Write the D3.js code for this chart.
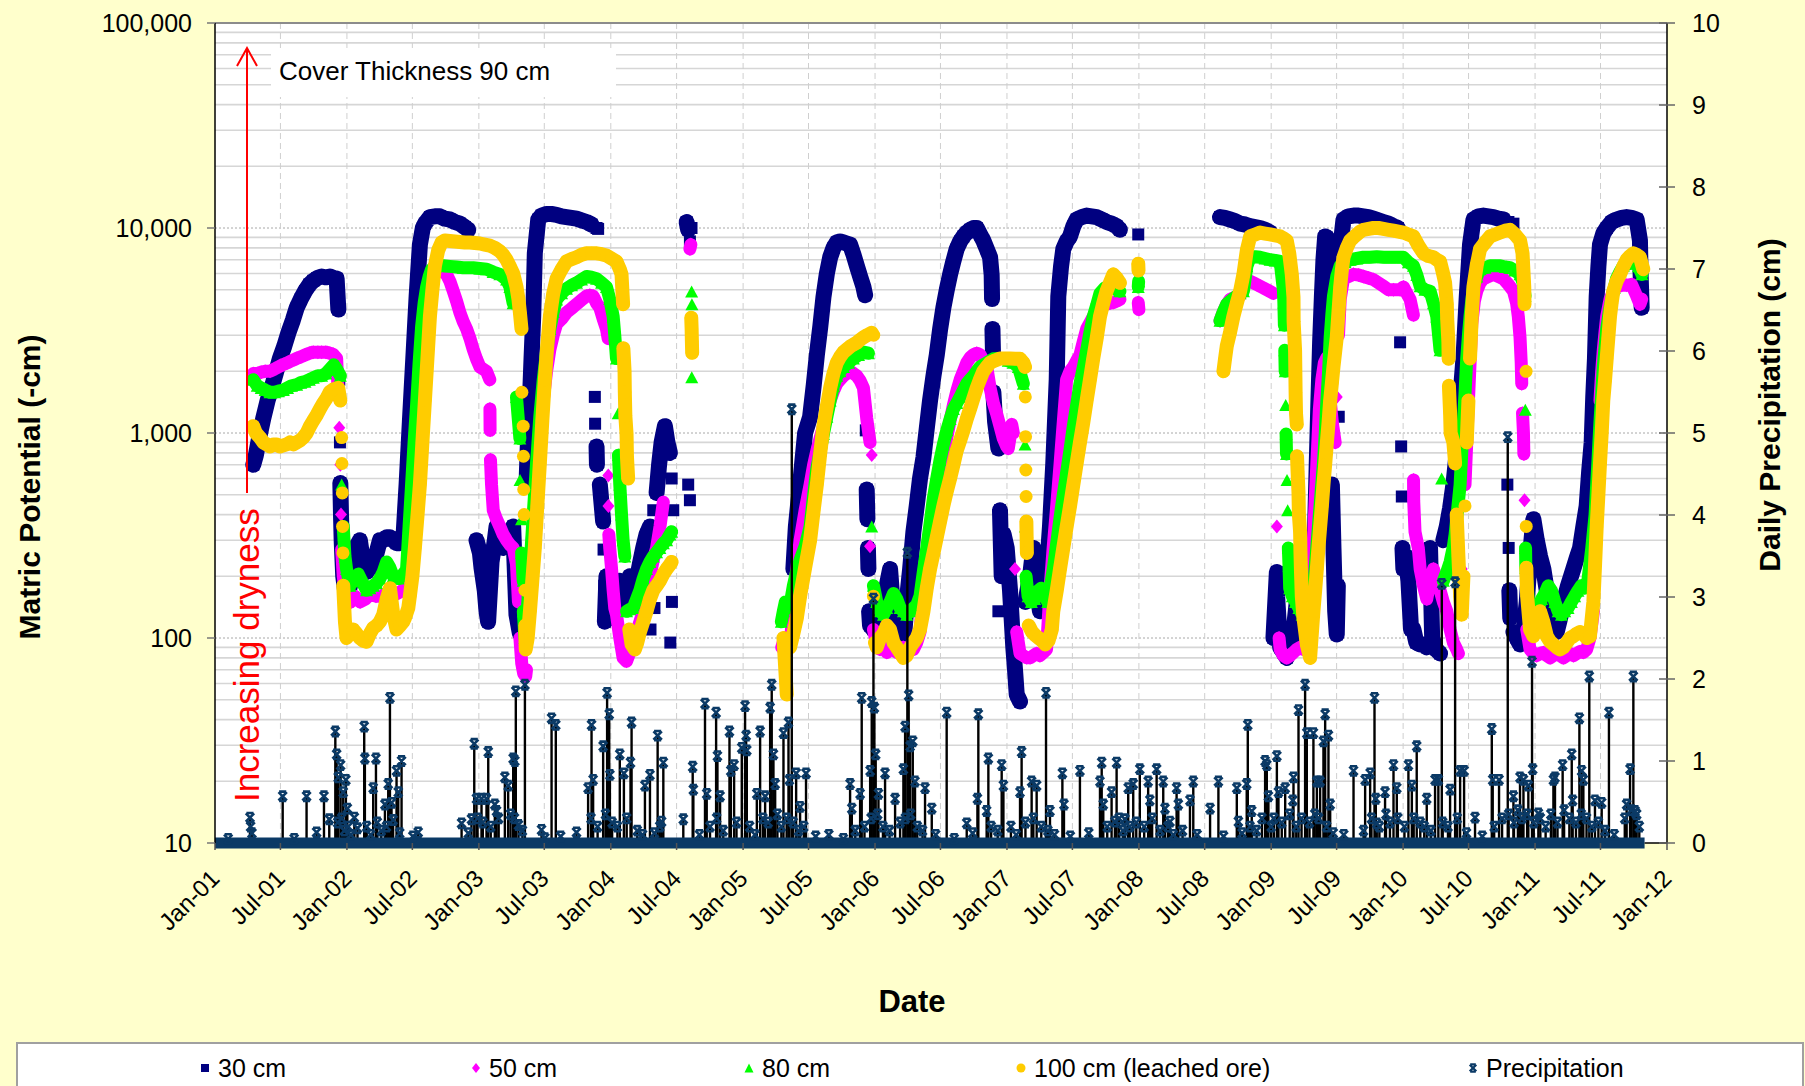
<!DOCTYPE html>
<html>
<head>
<meta charset="utf-8">
<script src="https://d3js.org/d3.v7.min.js"></script>
<style>
  body { margin: 0; background: #FFFFCC; }
  text { font-family: "Liberation Sans", Arial, sans-serif; }
</style>
</head>
<body>
<div id="chart"></div>
<script>

// matric potential (-cm) by depth, [decimal year, value]
var s30 = [
[2001.290,700],[2001.310,780],[2001.335,950],[2001.366,1180],[2001.400,1450],[2001.429,1660],[2001.460,1950],[2001.492,2310],[2001.525,2650],[2001.556,3080],[2001.590,3550],[2001.619,4080],[2001.650,4500],[2001.682,4920],[2001.715,5300],[2001.745,5530],[2001.775,5700],[2001.808,5800],[2001.840,5750],[2001.871,5800],[2001.900,5700],[2001.922,5660],[2001.935,4000],[2001.942,1820],[2001.947,900],[2001.950,570],[2001.955,400],[2001.960,300],[2001.972,200],[2001.997,150],
[2002.023,180],[2002.048,217],[2002.073,280],[2002.098,300],[2002.124,230],[2002.149,210],[2002.174,220],[2002.199,225],[2002.225,260],[2002.250,300],[2002.275,300],[2002.301,310],[2002.326,310],[2002.351,300],[2002.376,290],[2002.402,290],[2002.427,300],[2002.452,560],[2002.477,1135],[2002.503,2310],[2002.528,4630],[2002.553,8290],[2002.575,10000],[2002.591,10500],[2002.629,11300],[2002.667,11400],[2002.705,11400],[2002.742,11100],[2002.780,11000],[2002.818,10700],[2002.856,10500],[2002.894,10100],[2002.919,9800],
[2002.982,300],[2003.008,260],[2003.020,220],[2003.045,170],[2003.058,135],[2003.070,120],[2003.096,235],[2003.121,300],[2003.134,350],[2003.159,330],[2003.184,275],[2003.210,300],[2003.235,330],[2003.260,350],[2003.285,130],[2003.311,105],[2003.336,120],[2003.361,560],[2003.374,1000],[2003.387,1440],[2003.399,2300],[2003.412,3700],[2003.424,7530],[2003.450,11000],[2003.475,11500],[2003.513,11700],[2003.551,11700],[2003.589,11600],[2003.627,11400],[2003.664,11300],[2003.702,11200],[2003.740,11100],[2003.778,10900],[2003.816,10700],[2003.854,10400],[2003.892,10000],[2003.904,9900],
[2003.879,1500],[2003.881,1110],[2003.892,860],[2003.895,700],[2003.917,560],[2003.942,370],[2003.945,270],[2003.950,180],[2003.955,120],[2003.967,200],[2003.992,150],[2004.018,125],[2004.043,160],[2004.068,190],[2004.093,140],[2004.119,170],[2004.144,200],[2004.169,160],[2004.195,190],[2004.220,230],[2004.245,275],[2004.270,320],[2004.296,350],[2004.321,420],[2004.346,510],[2004.365,700],[2004.384,900],[2004.409,1080],[2004.428,900],[2004.447,800],[2004.460,600],[2004.472,420],[2004.300,110],[2004.330,140],[2004.450,95],[2004.462,150],
[2004.573,10700],[2004.585,9800],[2004.598,8600],[2004.610,10000],[2004.585,560],[2004.598,470],
[2005.381,217],[2005.400,350],[2005.432,560],[2005.470,1000],[2005.508,1200],[2005.535,1700],[2005.559,2400],[2005.585,3300],[2005.609,4600],[2005.635,6000],[2005.660,7200],[2005.685,8000],[2005.710,8500],[2005.735,8600],[2005.761,8500],[2005.786,8400],[2005.811,8300],[2005.837,7400],[2005.862,6540],[2005.887,5800],[2005.912,5160],[2005.925,4700],[2005.930,1030],[2005.937,530],[2005.942,380],[2005.946,275],[2005.950,217],[2005.955,135],[2005.962,115],[2005.988,110],
[2006.013,120],[2006.038,107],[2006.064,140],[2006.089,180],[2006.114,217],[2006.140,130],[2006.165,90],[2006.190,95],[2006.215,92],[2006.240,150],[2006.266,217],[2006.291,330],[2006.316,440],[2006.341,600],[2006.367,760],[2006.392,1050],[2006.417,1440],[2006.443,1900],[2006.468,2400],[2006.493,3200],[2006.518,4080],[2006.544,5000],[2006.569,5940],[2006.594,6900],[2006.619,7900],[2006.645,8600],[2006.670,9100],[2006.695,9500],[2006.720,9800],[2006.746,10000],[2006.771,10000],[2006.796,9300],[2006.821,8680],[2006.847,7900],[2006.872,7200],[2006.884,5900],[2006.887,4500],[2006.890,3220],[2006.895,2300],[2006.897,1580],[2006.910,1135],[2006.935,840],[2006.947,420],[2006.975,320],[2006.998,275],[2006.935,135],[2006.960,200],
[2007.023,171],[2007.048,90],[2007.061,70],[2007.074,53],[2007.099,49],[2007.140,150],[2007.175,200],[2007.200,275],[2007.225,180],[2007.250,135],[2007.285,150],[2007.310,250],[2007.326,350],[2007.351,710],[2007.377,1820],[2007.389,4630],[2007.410,6500],[2007.427,7900],[2007.452,8600],[2007.478,9100],[2007.503,10200],[2007.528,11000],[2007.566,11300],[2007.604,11500],[2007.642,11400],[2007.680,11300],[2007.718,11000],[2007.755,10700],[2007.793,10500],[2007.831,10200],[2007.856,9800],[2007.995,9300],
[2008.613,11300],[2008.650,11200],[2008.689,11000],[2008.727,10800],[2008.765,10500],[2008.803,10400],[2008.841,10200],[2008.879,10100],[2008.916,10000],[2008.954,9800],[2008.992,9500],
[2009.017,100],[2009.043,210],[2009.045,160],[2009.068,90],[2009.093,85],[2009.118,80],[2009.143,95],[2009.168,105],[2009.194,150],[2009.200,250],[2009.220,100],[2009.245,95],[2009.270,100],[2009.295,107],[2009.320,200],[2009.333,350],[2009.345,700],[2009.358,1440],[2009.371,2800],[2009.384,4600],[2009.396,7000],[2009.409,9100],[2009.422,9000],[2009.434,8300],[2009.447,3000],[2009.455,1500],[2009.460,560],[2009.472,275],[2009.485,135],[2009.497,104],[2009.505,180],[2009.512,1200],[2009.517,4000],[2009.523,7900],[2009.548,11000],[2009.586,11400],[2009.624,11500],[2009.662,11500],[2009.699,11400],[2009.737,11300],[2009.775,11100],[2009.813,10900],[2009.851,10700],[2009.889,10500],[2009.927,10200],[2009.960,10000],[2009.977,2770],[2009.985,860],[2009.990,490],[2009.995,275],
[2010.002,217],[2010.020,250],[2010.040,190],[2010.060,110],[2010.078,110],[2010.100,95],[2010.130,93],[2010.154,93],[2010.180,90],[2010.204,275],[2010.220,100],[2010.250,88],[2010.280,84],[2010.305,300],[2010.331,350],[2010.356,430],[2010.381,560],[2010.406,800],[2010.432,1440],[2010.457,2300],[2010.482,4600],[2010.507,8300],[2010.533,11000],[2010.570,11400],[2010.608,11500],[2010.646,11400],[2010.684,11300],[2010.722,11100],[2010.760,11000],[2010.798,10700],[2010.836,10500],[2010.790,560],[2010.800,275],[2010.805,171],[2010.812,125],[2010.836,107],[2010.860,100],[2010.886,93],[2010.912,107],[2010.937,150],[2010.962,250],[2010.987,380],
[2011.013,300],[2011.038,250],[2011.063,217],[2011.089,170],[2011.114,135],[2011.139,115],[2011.164,107],[2011.190,125],[2011.215,148],[2011.250,180],[2011.290,217],[2011.315,245],[2011.341,275],[2011.366,350],[2011.391,440],[2011.410,650],[2011.429,900],[2011.441,1500],[2011.454,2310],[2011.467,4630],[2011.480,6500],[2011.492,8300],[2011.517,9400],[2011.543,10000],[2011.580,10700],[2011.618,11000],[2011.656,11200],[2011.694,11300],[2011.732,11200],[2011.770,11000],[2011.795,8680],[2011.800,5940],[2011.808,4080]
];

var s50 = [
[2001.290,1950],[2001.320,1950],[2001.350,1980],[2001.380,2000],[2001.417,2000],[2001.450,2050],[2001.480,2100],[2001.518,2160],[2001.550,2200],[2001.580,2250],[2001.619,2310],[2001.650,2350],[2001.682,2400],[2001.715,2450],[2001.745,2480],[2001.780,2480],[2001.808,2480],[2001.840,2480],[2001.871,2450],[2001.896,2420],[2001.922,2310],[2001.935,1500],[2001.942,1060],[2001.950,700],[2001.955,400],[2001.960,270],[2001.972,200],[2001.985,170],[2001.997,150],
[2002.030,150],[2002.060,160],[2002.100,150],[2002.140,155],[2002.180,165],[2002.220,160],[2002.260,160],[2002.300,165],[2002.340,160],[2002.380,165],[2002.420,170],[2002.452,180],[2002.477,275],[2002.496,450],[2002.515,710],[2002.534,1150],[2002.553,1820],[2002.572,2700],[2002.591,3700],[2002.610,4500],[2002.629,5160],[2002.648,5600],[2002.667,6000],[2002.686,6200],[2002.705,6300],[2002.730,6100],[2002.755,5940],[2002.780,5500],[2002.806,4920],[2002.831,4400],[2002.856,3870],[2002.881,3500],[2002.907,3220],[2002.932,2900],[2002.957,2560],[2002.982,2300],
[2003.008,2100],[2003.033,2050],[2003.058,2000],[2003.083,1820],[2003.084,1310],[2003.085,1030],[2003.088,740],[2003.096,560],[2003.109,420],[2003.134,380],[2003.159,350],[2003.184,320],[2003.210,300],[2003.235,285],[2003.260,275],[2003.285,230],[2003.300,150],[2003.311,100],[2003.325,75],[2003.340,67],[2003.355,65],[2003.361,70],[2003.387,217],[2003.412,350],[2003.437,560],[2003.462,900],[2003.488,1440],[2003.513,2000],[2003.538,2550],[2003.564,3000],[2003.589,3400],[2003.627,3600],[2003.664,3870],[2003.702,4050],[2003.740,4250],[2003.778,4450],[2003.816,4660],[2003.841,4700],[2003.866,4660],[2003.892,4300],[2003.917,4080],[2003.942,3600],[2003.967,3220],[2003.980,2890],[2003.981,620],[2003.982,440],[2003.985,320],[2003.992,275],
[2004.005,220],[2004.018,170],[2004.030,140],[2004.043,130],[2004.068,100],[2004.093,80],[2004.119,77],[2004.144,85],[2004.170,100],[2004.195,107],[2004.220,120],[2004.245,135],[2004.270,165],[2004.296,200],[2004.321,240],[2004.346,275],[2004.372,350],[2004.397,460],[2004.598,7900],[2004.605,8300],
[2005.293,90],[2005.315,100],[2005.340,95],[2005.365,107],[2005.381,150],[2005.400,200],[2005.432,300],[2005.470,420],[2005.508,560],[2005.535,700],[2005.559,820],[2005.585,950],[2005.609,1080],[2005.635,1250],[2005.660,1440],[2005.685,1600],[2005.710,1740],[2005.735,1820],[2005.761,1900],[2005.786,1950],[2005.811,2000],[2005.837,1950],[2005.862,1900],[2005.887,1800],[2005.912,1660],[2005.937,1180],[2005.962,900],[2005.975,780],[2005.962,280],[2005.988,110],
[2006.010,95],[2006.038,88],[2006.064,90],[2006.089,85],[2006.114,88],[2006.140,92],[2006.165,85],[2006.190,88],[2006.215,90],[2006.240,86],[2006.266,90],[2006.291,88],[2006.316,95],[2006.341,107],[2006.366,170],[2006.392,217],[2006.417,290],[2006.442,390],[2006.468,500],[2006.493,620],[2006.518,780],[2006.544,950],[2006.569,1150],[2006.594,1370],[2006.620,1600],[2006.645,1820],[2006.670,2000],[2006.695,2200],[2006.720,2330],[2006.746,2410],[2006.771,2450],[2006.796,2410],[2006.821,2250],[2006.847,2100],[2006.872,1660],[2006.897,1400],[2006.922,1240],[2006.947,1080],[2006.972,940],[2006.998,860],
[2007.010,840],[2007.023,950],[2007.036,1100],[2007.048,1000],[2007.061,217],[2007.074,107],[2007.099,84],[2007.124,82],[2007.150,80],[2007.175,80],[2007.200,82],[2007.225,84],[2007.250,82],[2007.275,85],[2007.300,88],[2007.326,171],[2007.351,280],[2007.377,440],[2007.402,700],[2007.427,1135],[2007.452,1820],[2007.478,2000],[2007.503,2100],[2007.528,2250],[2007.553,2400],[2007.579,2800],[2007.604,3220],[2007.629,3450],[2007.654,3700],[2007.680,3900],[2007.705,4080],[2007.730,4200],[2007.755,4250],[2007.780,4300],[2007.806,4330],[2007.831,4400],[2007.856,4480],[2007.995,4330],[2008.000,4000],
[2008.613,3530],[2008.638,3900],[2008.664,4250],[2008.689,4480],[2008.715,4560],[2008.740,4600],[2008.765,4660],[2008.790,5400],[2008.816,5600],[2008.841,5500],[2008.866,5400],[2008.891,5300],[2008.916,5200],[2008.942,5100],[2008.967,5000],[2008.992,4900],
[2009.017,4800],[2009.043,350],[2009.060,100],[2009.068,88],[2009.093,82],[2009.118,80],[2009.143,82],[2009.168,85],[2009.194,88],[2009.220,90],[2009.245,88],[2009.270,100],[2009.295,130],[2009.320,300],[2009.346,710],[2009.365,1300],[2009.384,1820],[2009.403,2200],[2009.422,2330],[2009.440,1800],[2009.447,1440],[2009.465,1100],[2009.485,900],[2009.497,1500],[2009.510,3000],[2009.523,4500],[2009.548,5660],[2009.586,5800],[2009.624,5940],[2009.662,5900],[2009.699,5800],[2009.737,5700],[2009.775,5600],[2009.813,5400],[2009.851,5200],[2009.889,5000],[2009.927,5000],[2009.977,5000],
[2010.002,5160],[2010.028,4800],[2010.053,4480],[2010.078,3760],[2010.079,590],[2010.080,470],[2010.090,330],[2010.115,275],[2010.129,217],[2010.154,180],[2010.179,155],[2010.204,190],[2010.230,217],[2010.255,190],[2010.280,171],[2010.305,150],[2010.331,135],[2010.356,110],[2010.381,95],[2010.406,88],[2010.419,84],[2010.444,217],[2010.469,560],[2010.495,1440],[2010.520,3400],[2010.540,4400],[2010.558,4920],[2010.583,5400],[2010.608,5660],[2010.646,5800],[2010.684,5940],[2010.722,5800],[2010.760,5660],[2010.798,5300],[2010.836,4920],[2010.860,4300],[2010.873,3700],[2010.886,2930],[2010.895,2200],[2010.899,1740],[2010.905,1250],[2010.912,1000],[2010.915,790],[2010.920,470],[2010.924,265],[2010.937,110],[2010.962,88],[2010.987,84],
[2011.013,82],[2011.038,84],[2011.063,85],[2011.089,82],[2011.114,80],[2011.139,82],[2011.164,84],[2011.190,82],[2011.215,80],[2011.240,82],[2011.265,84],[2011.290,82],[2011.316,84],[2011.341,86],[2011.366,85],[2011.391,88],[2011.416,100],[2011.442,135],[2011.455,250],[2011.467,441],[2011.480,800],[2011.492,1440],[2011.505,2000],[2011.517,2530],[2011.530,3100],[2011.543,3700],[2011.568,4480],[2011.593,4900],[2011.618,5160],[2011.656,5250],[2011.694,5250],[2011.732,5300],[2011.770,4660],[2011.795,4250],[2011.808,4500]
];

var s80 = [
[2001.290,1820],[2001.320,1700],[2001.350,1660],[2001.380,1620],[2001.417,1580],[2001.450,1580],[2001.480,1600],[2001.518,1620],[2001.550,1660],[2001.580,1700],[2001.619,1720],[2001.650,1760],[2001.682,1780],[2001.715,1820],[2001.745,1860],[2001.780,1900],[2001.808,1900],[2001.840,1950],[2001.871,2050],[2001.900,2150],[2001.922,2050],[2001.950,1900],[2001.960,560],[2001.972,350],[2001.985,250],[2001.997,217],
[2002.023,180],[2002.048,190],[2002.086,205],[2002.111,190],[2002.149,171],[2002.174,175],[2002.199,180],[2002.225,185],[2002.250,195],[2002.275,210],[2002.301,235],[2002.326,220],[2002.351,200],[2002.389,195],[2002.414,200],[2002.439,210],[2002.452,217],[2002.471,350],[2002.490,560],[2002.509,900],[2002.528,1370],[2002.547,2200],[2002.566,3300],[2002.585,4300],[2002.604,5160],[2002.623,5800],[2002.642,6300],[2002.667,6450],[2002.692,6540],[2002.730,6540],[2002.780,6500],[2002.831,6450],[2002.881,6400],[2002.920,6400],[2002.957,6400],
[2003.008,6350],[2003.058,6300],[2003.108,6100],[2003.159,5940],[2003.210,5600],[2003.235,5160],[2003.260,4300],[2003.285,1500],[2003.311,940],[2003.312,590],[2003.323,380],[2003.324,260],[2003.336,190],[2003.337,135],[2003.349,100],[2003.361,120],[2003.387,217],[2003.412,400],[2003.437,710],[2003.462,1200],[2003.488,1820],[2003.513,2500],[2003.538,3220],[2003.564,3900],[2003.589,4480],[2003.627,4800],[2003.664,5060],[2003.702,5250],[2003.740,5400],[2003.778,5600],[2003.816,5800],[2003.854,5750],[2003.892,5660],[2003.930,5400],[2003.967,5160],[2003.992,4500],
[2004.018,3700],[2004.030,3000],[2004.043,2310],[2004.056,1250],[2004.058,780],[2004.068,560],[2004.081,400],[2004.093,300],[2004.106,250],[2004.119,135],[2004.144,138],[2004.169,140],[2004.195,155],[2004.220,171],[2004.245,195],[2004.270,217],[2004.296,235],[2004.321,250],[2004.346,262],[2004.371,275],[2004.397,290],[2004.422,300],[2004.447,320],[2004.460,330],[2004.611,4900],[2004.613,4250],[2004.612,1870],
[2005.290,120],[2005.305,135],[2005.320,150],[2005.340,140],[2005.360,150],[2005.381,180],[2005.405,210],[2005.432,240],[2005.470,280],[2005.508,350],[2005.535,500],[2005.559,670],[2005.585,820],[2005.609,990],[2005.635,1200],[2005.660,1440],[2005.685,1700],[2005.710,1900],[2005.735,2000],[2005.761,2100],[2005.800,2200],[2005.836,2310],[2005.875,2400],[2005.912,2480],[2005.950,2450],[2005.975,350],[2005.988,180],
[2006.013,150],[2006.038,135],[2006.064,130],[2006.089,140],[2006.114,150],[2006.140,165],[2006.165,155],[2006.190,140],[2006.215,135],[2006.240,130],[2006.266,135],[2006.291,140],[2006.316,145],[2006.341,160],[2006.366,210],[2006.392,275],[2006.417,360],[2006.442,480],[2006.468,600],[2006.493,740],[2006.518,880],[2006.544,1030],[2006.569,1170],[2006.594,1310],[2006.620,1400],[2006.645,1500],[2006.670,1620],[2006.695,1740],[2006.720,1820],[2006.746,1900],[2006.771,2000],[2006.796,2100],[2006.821,2150],[2006.847,2200],[2006.872,2250],[2006.897,2300],[2006.935,2310],[2006.973,2310],
[2007.010,2250],[2007.048,2200],[2007.086,2100],[2007.124,1740],[2007.137,880],[2007.140,350],[2007.145,200],[2007.160,160],[2007.185,150],[2007.210,155],[2007.235,170],[2007.260,175],[2007.285,160],[2007.310,150],[2007.351,217],[2007.377,290],[2007.402,385],[2007.427,500],[2007.452,640],[2007.478,830],[2007.503,1080],[2007.528,1370],[2007.553,1740],[2007.579,2100],[2007.604,2530],[2007.629,3100],[2007.654,3700],[2007.680,4200],[2007.705,4800],[2007.742,5100],[2007.780,5200],[2007.818,5050],[2007.856,4920],[2007.995,5160],[2007.998,5500],
[2008.613,3530],[2008.638,3900],[2008.664,4250],[2008.700,4450],[2008.740,4660],[2008.765,4800],[2008.790,4920],[2008.816,6500],[2008.841,7200],[2008.879,7250],[2008.916,7200],[2008.954,7100],[2008.992,7000],
[2009.030,6950],[2009.068,6870],[2009.093,4920],[2009.096,4330],[2009.100,3350],[2009.103,2530],[2009.106,2000],[2009.110,1370],[2009.113,990],[2009.116,790],[2009.120,590],[2009.125,420],[2009.130,275],[2009.135,225],[2009.140,175],[2009.160,160],[2009.185,150],[2009.210,140],[2009.235,130],[2009.260,120],[2009.285,115],[2009.320,171],[2009.340,250],[2009.358,350],[2009.377,500],[2009.396,710],[2009.410,1000],[2009.422,1440],[2009.435,2000],[2009.447,2930],[2009.460,3800],[2009.472,4660],[2009.497,5800],[2009.523,6540],[2009.560,6800],[2009.598,7000],[2009.649,7100],[2009.699,7200],[2009.750,7200],[2009.800,7250],[2009.851,7200],[2009.900,7200],[2009.950,7200],
[2010.002,7200],[2010.040,6800],[2010.078,6540],[2010.104,5900],[2010.129,5200],[2010.165,5000],[2010.204,4920],[2010.230,4300],[2010.255,3700],[2010.280,2530],[2010.292,600],[2010.305,190],[2010.331,210],[2010.356,235],[2010.381,280],[2010.394,320],[2010.432,560],[2010.444,800],[2010.457,1135],[2010.470,1600],[2010.482,2310],[2010.495,3000],[2010.507,3700],[2010.520,4400],[2010.533,5160],[2010.558,5800],[2010.583,6300],[2010.621,6400],[2010.659,6540],[2010.697,6540],[2010.735,6540],[2010.773,6450],[2010.810,6400],[2010.848,6200],[2010.886,5940],[2010.910,5400],[2010.924,4660],[2010.926,1300],[2010.928,275],[2010.930,220],[2010.950,150],[2010.975,140],
[2011.000,135],[2011.025,140],[2011.050,155],[2011.075,165],[2011.100,180],[2011.125,170],[2011.150,150],[2011.175,135],[2011.200,130],[2011.225,135],[2011.250,140],[2011.275,150],[2011.300,160],[2011.325,170],[2011.350,180],[2011.375,175],[2011.400,190],[2011.430,275],[2011.455,400],[2011.467,560],[2011.480,800],[2011.492,1135],[2011.505,1550],[2011.517,2100],[2011.530,2600],[2011.543,3220],[2011.562,3900],[2011.580,4480],[2011.600,5100],[2011.618,5660],[2011.643,6100],[2011.669,6540],[2011.707,6700],[2011.745,6870],[2011.783,6500],[2011.810,5940]
];

var s100 = [
[2001.290,1080],[2001.310,1000],[2001.341,950],[2001.366,900],[2001.392,880],[2001.417,860],[2001.442,880],[2001.467,880],[2001.492,860],[2001.518,870],[2001.543,880],[2001.568,900],[2001.593,880],[2001.619,900],[2001.644,920],[2001.669,950],[2001.695,1000],[2001.720,1080],[2001.745,1150],[2001.770,1220],[2001.795,1310],[2001.821,1400],[2001.846,1480],[2001.871,1590],[2001.896,1630],[2001.934,1660],[2001.950,1440],[2001.960,950],[2001.962,710],[2001.965,510],[2001.967,350],[2001.970,260],[2001.972,180],[2001.985,120],[2001.997,100],
[2002.023,105],[2002.048,110],[2002.073,105],[2002.098,100],[2002.124,97],[2002.149,96],[2002.174,105],[2002.199,112],[2002.225,115],[2002.250,120],[2002.275,130],[2002.301,155],[2002.326,175],[2002.351,130],[2002.376,110],[2002.402,115],[2002.427,120],[2002.439,125],[2002.465,140],[2002.477,160],[2002.496,200],[2002.515,275],[2002.534,390],[2002.553,560],[2002.572,900],[2002.591,1440],[2002.610,2300],[2002.629,3700],[2002.648,5000],[2002.667,6540],[2002.692,7800],[2002.717,8500],[2002.742,8700],[2002.780,8650],[2002.818,8600],[2002.856,8550],[2002.894,8500],[2002.932,8500],[2002.970,8450],
[2003.008,8400],[2003.045,8300],[2003.083,8200],[2003.121,8000],[2003.159,7700],[2003.184,7400],[2003.210,7000],[2003.235,6500],[2003.260,6000],[2003.285,5160],[2003.300,4500],[2003.311,3870],[2003.323,3220],[2003.326,1580],[2003.336,1080],[2003.338,770],[2003.340,530],[2003.343,400],[2003.349,171],[2003.352,115],[2003.355,88],[2003.370,100],[2003.387,135],[2003.405,190],[2003.424,275],[2003.443,440],[2003.462,710],[2003.481,1150],[2003.500,1820],[2003.519,2700],[2003.538,3700],[2003.564,4800],[2003.589,5660],[2003.627,6300],[2003.664,6870],[2003.702,7050],[2003.740,7200],[2003.778,7400],[2003.816,7530],[2003.854,7530],[2003.892,7530],[2003.930,7450],[2003.967,7340],
[2004.005,7100],[2004.043,6870],[2004.068,6300],[2004.081,5940],[2004.093,4250],[2004.095,2590],[2004.104,2000],[2004.106,1580],[2004.110,1210],[2004.119,990],[2004.122,770],[2004.131,600],[2004.140,110],[2004.157,93],[2004.182,88],[2004.200,95],[2004.220,107],[2004.245,120],[2004.270,135],[2004.296,155],[2004.321,171],[2004.346,180],[2004.371,190],[2004.397,205],[2004.422,217],[2004.447,228],[2004.460,235],[2004.608,3650],[2004.611,3220],[2004.613,2790],[2004.615,2460],
[2005.306,100],[2005.331,53],[2005.332,95],[2005.356,90],[2005.381,105],[2005.407,125],[2005.432,160],[2005.470,220],[2005.508,300],[2005.535,420],[2005.559,560],[2005.585,800],[2005.609,1080],[2005.635,1350],[2005.660,1660],[2005.685,1950],[2005.710,2200],[2005.735,2350],[2005.761,2480],[2005.786,2560],[2005.811,2640],[2005.837,2700],[2005.862,2760],[2005.887,2850],[2005.912,2930],[2005.940,3000],[2005.975,3080],[2005.990,3000],[2005.988,160],
[2006.000,95],[2006.013,90],[2006.038,100],[2006.064,105],[2006.089,115],[2006.114,110],[2006.140,95],[2006.165,90],[2006.190,85],[2006.215,80],[2006.240,82],[2006.266,90],[2006.291,95],[2006.316,100],[2006.341,110],[2006.367,135],[2006.392,175],[2006.417,217],[2006.443,260],[2006.468,310],[2006.493,370],[2006.518,441],[2006.544,520],[2006.569,600],[2006.594,700],[2006.619,820],[2006.645,920],[2006.670,1030],[2006.695,1170],[2006.720,1310],[2006.746,1480],[2006.771,1660],[2006.796,1830],[2006.821,2000],[2006.847,2100],[2006.872,2200],[2006.910,2260],[2006.947,2310],[2006.985,2310],
[2007.023,2310],[2007.061,2300],[2007.099,2300],[2007.125,2200],[2007.137,2100],[2007.139,1500],[2007.141,960],[2007.143,660],[2007.145,490],[2007.147,370],[2007.149,310],[2007.151,260],[2007.165,115],[2007.190,107],[2007.215,103],[2007.240,100],[2007.265,97],[2007.290,93],[2007.315,97],[2007.340,110],[2007.351,135],[2007.377,170],[2007.402,217],[2007.427,275],[2007.452,348],[2007.478,440],[2007.503,559],[2007.528,710],[2007.553,897],[2007.579,1130],[2007.604,1440],[2007.629,1820],[2007.654,2310],[2007.680,2900],[2007.705,3700],[2007.730,4300],[2007.755,4920],[2007.780,5400],[2007.806,5940],[2007.831,5700],[2007.856,5400],[2007.995,6700],[2007.997,6200],
[2008.639,2000],[2008.651,2300],[2008.664,2650],[2008.689,3100],[2008.714,3700],[2008.740,4300],[2008.765,4920],[2008.790,5940],[2008.816,7800],[2008.841,9100],[2008.879,9300],[2008.916,9500],[2008.954,9400],[2008.992,9300],
[2009.030,9200],[2009.068,9100],[2009.093,8900],[2009.118,8680],[2009.137,7500],[2009.156,5940],[2009.169,4600],[2009.170,3500],[2009.181,2530],[2009.183,2000],[2009.185,1580],[2009.188,1250],[2009.194,1100],[2009.196,770],[2009.200,650],[2009.207,510],[2009.210,400],[2009.219,330],[2009.222,260],[2009.226,210],[2009.232,160],[2009.245,125],[2009.270,93],[2009.295,80],[2009.320,135],[2009.333,170],[2009.346,217],[2009.358,275],[2009.371,348],[2009.384,440],[2009.396,559],[2009.409,700],[2009.422,897],[2009.435,1130],[2009.447,1440],[2009.460,1750],[2009.472,2100],[2009.485,2500],[2009.497,2930],[2009.510,3900],[2009.523,5160],[2009.535,6200],[2009.548,7200],[2009.573,8000],[2009.598,8680],[2009.624,9000],[2009.649,9300],[2009.674,9600],[2009.699,9800],[2009.737,9900],[2009.775,10000],[2009.813,10000],[2009.851,9900],[2009.889,9800],[2009.927,9700],[2009.965,9600],
[2010.002,9500],[2010.040,9300],[2010.078,9100],[2010.116,8200],[2010.154,7530],[2010.192,7300],[2010.230,7200],[2010.255,7000],[2010.280,6870],[2010.300,6100],[2010.318,5400],[2010.331,4250],[2010.334,3600],[2010.343,2790],[2010.345,2300],[2010.347,1700],[2010.356,1250],[2010.360,1000],[2010.381,900],[2010.394,710],[2010.406,400],[2010.419,250],[2010.432,160],[2010.444,130],[2010.457,200],[2010.469,441],[2010.482,900],[2010.495,1440],[2010.507,2310],[2010.520,3700],[2010.533,5160],[2010.558,6600],[2010.583,7900],[2010.621,8500],[2010.659,9100],[2010.697,9300],[2010.735,9500],[2010.773,9700],[2010.810,9800],[2010.848,9300],[2010.886,8700],[2010.905,7530],[2010.918,5160],[2010.920,4250],[2010.932,2000],[2010.933,350],[2010.934,220],[2010.936,190],[2010.940,160],[2010.962,110],[2010.987,102],
[2011.013,120],[2011.038,135],[2011.063,120],[2011.089,102],[2011.114,96],[2011.139,93],[2011.164,90],[2011.190,88],[2011.215,90],[2011.240,95],[2011.265,100],[2011.290,102],[2011.316,105],[2011.341,107],[2011.366,105],[2011.391,100],[2011.416,102],[2011.442,150],[2011.455,230],[2011.467,348],[2011.480,500],[2011.492,710],[2011.505,1000],[2011.517,1440],[2011.530,1800],[2011.543,2310],[2011.555,2900],[2011.568,3700],[2011.580,4300],[2011.593,4920],[2011.618,5500],[2011.644,5940],[2011.669,6500],[2011.694,7000],[2011.720,7300],[2011.745,7530],[2011.770,7400],[2011.795,7200],[2011.820,6300]
];

// daily precipitation (cm), rain days only
var precip = [
[2001.265,0.31],[2001.513,0.57],[2001.694,0.57],[2001.770,0.13],[2001.826,0.57],[2001.866,0.29],[2001.912,1.36],[2001.922,1.08],[2001.934,0.80],[2001.952,0.95],[2001.972,0.62],[2001.992,0.77],
[2002.003,0.42],[2002.056,0.31],[2002.131,1.42],[2002.136,1.03],[2002.199,0.67],[2002.220,1.03],[2002.288,0.47],[2002.313,0.72],[2002.326,1.77],[2002.338,0.49],[2002.376,0.88],[2002.389,0.62],[2002.414,1.00],[2002.540,0.13],[2002.869,0.24],[2002.944,0.29],[2002.965,1.21],[2002.982,0.54],
[2003.020,0.54],[2003.058,0.54],[2003.071,1.11],[2003.121,0.47],[2003.134,0.39],[2003.197,0.80],[2003.222,0.70],[2003.260,1.03],[2003.280,1.85],[2003.273,1.00],[2003.349,1.93],[2003.475,0.16],[2003.551,1.52],[2003.583,1.44],[2003.740,0.13],[2003.828,0.67],[2003.854,1.44],[2003.866,0.77],[2003.942,1.18],[2003.972,1.83],[2003.988,1.57],[2003.993,0.83],
[2004.068,1.08],[2004.099,0.85],[2004.149,0.98],[2004.157,1.47],[2004.258,0.70],[2004.296,0.83],[2004.354,1.31],[2004.384,0.26],[2004.397,0.98],[2004.548,0.29],[2004.619,0.93],[2004.624,0.65],[2004.712,1.70],[2004.725,0.60],[2004.796,1.59],[2004.806,1.06],[2004.826,0.57],[2004.897,1.36],[2004.907,0.88],[2004.932,0.95],[2004.990,1.16],
[2005.015,1.67],[2005.023,1.31],[2005.028,1.13],[2005.104,0.60],[2005.129,1.36],[2005.167,0.57],[2005.205,1.65],[2005.217,1.93],[2005.230,1.08],[2005.243,0.72],[2005.306,1.34],[2005.344,1.47],[2005.351,0.77],[2005.369,5.29],[2005.402,0.85],[2005.432,0.44],[2005.477,0.85],[2005.811,0.72],[2005.824,0.42],[2005.887,0.60],[2005.899,1.77],[2005.963,0.88],[2005.975,1.72],[2005.988,2.98],[2005.995,1.65],
[2006.005,1.08],[2006.026,0.60],[2006.076,0.85],[2006.152,0.54],[2006.215,0.90],[2006.228,1.42],[2006.245,3.54],[2006.255,1.80],[2006.266,1.18],[2006.286,1.24],[2006.303,0.75],[2006.379,0.67],[2006.430,0.42],[2006.543,1.59],[2006.695,0.24],[2006.776,0.54],[2006.783,1.57],[2006.846,0.39],[2006.859,1.03],[2006.960,0.95],[2006.973,0.70],
[2007.099,0.62],[2007.111,1.11],[2007.187,0.75],[2007.225,0.70],[2007.296,1.83],[2007.326,0.39],[2007.420,0.85],[2007.432,0.47],[2007.553,0.88],[2007.705,0.75],[2007.718,0.98],[2007.730,0.47],[2007.793,0.62],[2007.818,0.26],[2007.831,0.98],[2007.894,0.29],[2007.919,0.67],[2007.957,0.72],
[2008.007,0.90],[2008.070,0.75],[2008.083,0.52],[2008.134,0.90],[2008.184,0.75],[2008.197,0.42],[2008.235,0.26],[2008.285,0.67],[2008.298,0.47],[2008.386,0.52],[2008.411,0.75],[2008.538,0.42],[2008.601,0.75],[2008.740,0.67],[2008.752,0.26],[2008.815,0.72],[2008.823,1.44],[2008.853,0.39],[2008.954,1.00],[2008.967,0.95],[2008.979,0.57],
[2009.043,1.06],[2009.055,0.62],[2009.106,0.67],[2009.164,0.52],[2009.169,0.80],[2009.207,1.62],[2009.257,1.93],[2009.270,1.34],[2009.320,1.34],[2009.346,0.75],[2009.371,0.75],[2009.396,1.24],[2009.409,1.57],[2009.434,1.31],[2009.447,0.47],[2009.624,0.88],[2009.712,0.77],[2009.750,0.85],[2009.783,1.77],[2009.793,0.54],[2009.800,0.24],[2009.863,0.62],[2009.927,0.95],[2009.952,0.67],
[2010.040,0.95],[2010.066,0.70],[2010.103,1.18],[2010.179,0.54],[2010.242,0.77],[2010.267,0.77],[2010.293,3.16],[2010.356,0.65],[2010.394,3.18],[2010.432,0.88],[2010.462,0.88],[2010.545,0.31],[2010.672,1.39],[2010.679,0.77],[2010.727,0.77],[2010.793,4.95],[2010.836,0.57],[2010.886,0.80],[2010.912,0.77],[2010.949,0.70],[2010.977,2.21],[2010.982,0.90],
[2011.025,0.36],[2011.139,0.77],[2011.151,0.80],[2011.209,0.95],[2011.278,1.08],[2011.285,0.52],[2011.336,1.52],[2011.353,0.88],[2011.366,0.77],[2011.411,2.03],[2011.454,0.52],[2011.505,0.49],[2011.560,1.59],[2011.694,0.47],[2011.720,0.90],[2011.745,2.03],[2011.757,0.39],
// small showers
[2001.10,0.05],[2001.27,0.2],[2001.28,0.12],[2001.60,0.05],[2001.93,0.25],[2001.96,0.3],[2001.98,0.15],[2002.01,0.2],[2002.03,0.1],[2002.08,0.18],[2002.15,0.2],[2002.18,0.1],[2002.23,0.25],[2002.26,0.15],[2002.30,0.2],[2002.35,0.28],[2002.40,0.12],[2002.50,0.08],[2002.92,0.12],[2002.99,0.3],
[2003.03,0.25],[2003.09,0.2],[2003.15,0.3],[2003.24,0.35],[2003.27,0.3],[2003.30,0.22],[2003.33,0.15],[2003.50,0.06],[2003.62,0.08],[2003.85,0.3],[2003.90,0.2],[2003.96,0.35],[2004.01,0.25],[2004.05,0.2],[2004.12,0.3],[2004.20,0.15],[2004.24,0.1],[2004.33,0.12],[2004.37,0.2],[2004.67,0.1],
[2004.75,0.2],[2004.80,0.3],[2004.85,0.15],[2004.95,0.25],[2005.05,0.2],[2005.09,0.1],[2005.15,0.3],[2005.19,0.25],[2005.26,0.35],[2005.29,0.2],[2005.33,0.3],[2005.38,0.25],[2005.42,0.15],[2005.46,0.2],[2005.55,0.08],[2005.65,0.1],[2005.76,0.05],[2005.85,0.15],[2005.92,0.2],[2005.97,0.3],
[2006.02,0.35],[2006.06,0.2],[2006.11,0.15],[2006.19,0.25],[2006.23,0.3],[2006.27,0.35],[2006.32,0.2],[2006.36,0.15],[2006.46,0.1],[2006.60,0.05],[2006.74,0.12],[2006.88,0.2],[2006.93,0.15],[2007.03,0.2],[2007.07,0.1],[2007.14,0.25],[2007.20,0.3],[2007.26,0.2],[2007.31,0.15],[2007.36,0.1],
[2007.48,0.08],[2007.62,0.12],[2007.76,0.2],[2007.85,0.3],[2007.88,0.15],[2007.93,0.2],[2007.98,0.25],[2008.04,0.2],[2008.10,0.3],[2008.16,0.15],[2008.22,0.2],[2008.26,0.1],[2008.33,0.15],[2008.44,0.1],[2008.64,0.08],[2008.78,0.12],[2008.84,0.2],[2008.89,0.15],[2008.93,0.3],[2009.00,0.2],
[2009.02,0.3],[2009.08,0.25],[2009.14,0.35],[2009.19,0.2],[2009.23,0.3],[2009.29,0.25],[2009.33,0.35],[2009.36,0.3],[2009.42,0.2],[2009.47,0.12],[2009.55,0.1],[2009.70,0.15],[2009.76,0.3],[2009.82,0.2],[2009.87,0.35],[2009.90,0.25],[2009.96,0.3],[2010.01,0.2],[2010.08,0.3],[2010.13,0.25],
[2010.16,0.2],[2010.21,0.15],[2010.30,0.25],[2010.34,0.2],[2010.41,0.3],[2010.48,0.12],[2010.60,0.08],[2010.69,0.2],[2010.75,0.3],[2010.80,0.35],[2010.84,0.25],[2010.87,0.4],[2010.90,0.3],[2010.94,0.35],[2010.99,0.25],[2011.04,0.3],[2011.08,0.2],[2011.12,0.35],[2011.17,0.25],[2011.22,0.4],
[2011.26,0.3],[2011.31,0.25],[2011.35,0.35],[2011.39,0.3],[2011.43,0.2],[2011.48,0.25],[2011.53,0.15],[2011.60,0.1],[2011.68,0.3],[2011.73,0.4],[2011.77,0.35],[2011.79,0.2]
];
// period of the rain gauge record (dry days plot at 0)
var precipRecord = [2001.0, 2011.83];

var leftTicks = [10, 100, 1000, 10000, 100000];
var rightTicks = [0,1,2,3,4,5,6,7,8,9,10];
var legendLabels = ["30 cm", "50 cm", "80 cm", "100 cm (leached ore)", "Precipitation"];

var W = 1805, H = 1086;
var plot = {left: 215, right: 1667, top: 23, bottom: 843};

function yearToDate(y) {
    var yr = Math.floor(y);
    var a = new Date(yr, 0, 1), b = new Date(yr + 1, 0, 1);
    return new Date(a.getTime() + (y - yr) * (b - a));
}

var x = d3.scaleTime()
    .domain([new Date(2001, 0, 1), new Date(2012, 0, 1)])
    .range([plot.left, plot.right]);
var yL = d3.scaleLog()
    .domain([10, 100000])
    .range([plot.bottom, plot.top]);
var yR = d3.scaleLinear()
    .domain([0, 10])
    .range([plot.bottom, plot.top]);

var svg = d3.select("#chart").append("svg")
    .attr("width", W)
    .attr("height", H)
    .style("display", "block");

svg.append("rect").attr("width", W).attr("height", H).attr("fill", "#FFFFCC");

// plot area
svg.append("rect")
    .attr("x", plot.left).attr("y", plot.top)
    .attr("width", plot.right - plot.left).attr("height", plot.bottom - plot.top)
    .attr("fill", "#ffffff");

var grid = svg.append("g");
// minor log gridlines
for (var d = 10; d < 100000; d *= 10) {
    for (var k = 2; k <= 9; k++) {
        grid.append("line")
            .attr("x1", plot.left).attr("x2", plot.right)
            .attr("y1", yL(k * d)).attr("y2", yL(k * d))
            .attr("stroke", "#d6d6d6").attr("stroke-width", 1.6);
    }
}
// decade gridlines
[100, 1000, 10000].forEach(function(v) {
    grid.append("line")
        .attr("x1", plot.left).attr("x2", plot.right)
        .attr("y1", yL(v)).attr("y2", yL(v))
        .attr("stroke", "#a8a8a8").attr("stroke-width", 1)
        .attr("stroke-dasharray", "2,2");
});
// vertical dashed gridlines
var monthTicks = d3.timeMonth.every(6).range(new Date(2001, 0, 1), new Date(2012, 0, 2));
monthTicks.forEach(function(t, i) {
    if (i === 0 || i === monthTicks.length - 1) return;
    grid.append("line")
        .attr("x1", x(t)).attr("x2", x(t))
        .attr("y1", plot.top).attr("y2", plot.bottom)
        .attr("stroke", "#cfcfcf").attr("stroke-width", 1)
        .attr("stroke-dasharray", "6,4");
});

// annotation box
svg.append("rect")
    .attr("x", 271).attr("y", 48).attr("width", 345).attr("height", 49)
    .attr("fill", "#ffffff");
svg.append("text")
    .attr("x", 279).attr("y", 80)
    .attr("font-size", 26)
    .text("Cover Thickness 90 cm");

// marker shapes
function squarePath(s) { return "M" + (-s/2) + "," + (-s/2) + "h" + s + "v" + s + "h" + (-s) + "Z"; }
function diamondPath(w, h) { return "M0," + (-h/2) + "L" + (w/2) + ",0L0," + (h/2) + "L" + (-w/2) + ",0Z"; }
function trianglePath(w, h) { return "M0," + (-h/2) + "L" + (w/2) + "," + (h/2) + "L" + (-w/2) + "," + (h/2) + "Z"; }
function starPath(r) {
    return "M" + (-r) + "," + (-r) + "L" + r + "," + r + "M" + r + "," + (-r) + "L" + (-r) + "," + r +
        "M" + (-r*0.85) + "," + (-r*1.1) + "L" + (r*0.85) + "," + (-r*1.1) +
        "M" + (-r*0.85) + "," + (r*1.1) + "L" + (r*0.85) + "," + (r*1.1);
}

var series = [
    {data: s30, color: "#000080", path: squarePath(12), band: 16, rate: 35},
    {data: s50, color: "#FF00FF", path: diamondPath(12, 14), band: 13, rate: 16},
    {data: s80, color: "#00FF00", path: trianglePath(13, 12), band: 13, rate: 16},
    {data: s100, color: "#FFCC00", circle: 6.5, band: 14, rate: 16}
];

// split a series into runs of consecutive readings; fast drops/rises stay as loose dots
function runs(data, rate) {
    var sorted = d3.sort(data, function(d) { return d[0]; });
    var out = [], cur = [sorted[0]];
    for (var i = 1; i < sorted.length; i++) {
        var p = sorted[i - 1], q = sorted[i];
        var dt = q[0] - p[0];
        var jump = Math.abs(Math.log10(q[1]) - Math.log10(p[1]));
        var fast = jump > 0.12 && jump / Math.max(dt, 1e-4) > rate;
        if (dt > 0.07 || jump > 0.45 || fast) {
            out.push(cur); cur = [q];
        } else {
            cur.push(q);
        }
    }
    out.push(cur);
    return out.filter(function(r) { return r.length > 1; });
}

var bandLine = d3.line()
    .x(function(d) { return x(yearToDate(d[0])); })
    .y(function(d) { return yL(d[1]); });

series.forEach(function(s) {
    var g = svg.append("g");
    g.selectAll("path.band")
        .data(runs(s.data, s.rate))
        .enter().append("path")
        .attr("class", "band")
        .attr("d", bandLine)
        .attr("fill", "none")
        .attr("stroke", s.color)
        .attr("stroke-width", s.band)
        .attr("stroke-linejoin", "round")
        .attr("stroke-linecap", "round");
    if (s.circle) {
        g.selectAll("circle")
            .data(s.data)
            .enter().append("circle")
            .attr("cx", function(d) { return x(yearToDate(d[0])); })
            .attr("cy", function(d) { return yL(d[1]); })
            .attr("r", s.circle)
            .attr("fill", s.color);
    } else {
        g.selectAll("path.mk")
            .data(s.data)
            .enter().append("path")
            .attr("class", "mk")
            .attr("d", s.path)
            .attr("transform", function(d) {
                return "translate(" + x(yearToDate(d[0])) + "," + yL(d[1]) + ")";
            })
            .attr("fill", s.color);
    }
});

// precipitation
var pg = svg.append("g");
pg.selectAll("line.stem")
    .data(precip)
    .enter().append("line")
    .attr("class", "stem")
    .attr("x1", function(d) { return x(yearToDate(d[0])); })
    .attr("x2", function(d) { return x(yearToDate(d[0])); })
    .attr("y1", yR(0))
    .attr("y2", function(d) { return yR(d[1]); })
    .attr("stroke", "#000000")
    .attr("stroke-width", 2.4);
pg.append("line")
    .attr("x1", x(yearToDate(precipRecord[0])))
    .attr("x2", x(yearToDate(precipRecord[1])))
    .attr("y1", yR(0)).attr("y2", yR(0))
    .attr("stroke", "#0B3A66").attr("stroke-width", 11);
pg.selectAll("path.mk")
    .data(precip)
    .enter().append("path")
    .attr("class", "mk")
    .attr("d", starPath(4.2))
    .attr("transform", function(d) {
        return "translate(" + x(yearToDate(d[0])) + "," + yR(d[1]) + ")";
    })
    .attr("fill", "none")
    .attr("stroke", "#0B3A66")
    .attr("stroke-width", 2.6);

// arrow + label
svg.append("line")
    .attr("x1", 247).attr("x2", 247).attr("y1", 49).attr("y2", 493)
    .attr("stroke", "#FF0000").attr("stroke-width", 2);
svg.append("path")
    .attr("d", "M237,66L247,48L257,66")
    .attr("fill", "none").attr("stroke", "#FF0000").attr("stroke-width", 2);
svg.append("text")
    .attr("transform", "translate(259,802) rotate(-90)")
    .attr("font-size", 35)
    .attr("fill", "#FF0000")
    .text("Increasing dryness");

// frame and axes
svg.append("line")
    .attr("x1", plot.left).attr("x2", plot.right).attr("y1", plot.top).attr("y2", plot.top)
    .attr("stroke", "#8c8c8c").attr("stroke-width", 2);
svg.append("line")
    .attr("x1", plot.left).attr("x2", plot.left).attr("y1", plot.top).attr("y2", plot.bottom)
    .attr("stroke", "#000").attr("stroke-width", 1.5);
svg.append("line")
    .attr("x1", plot.right).attr("x2", plot.right).attr("y1", plot.top).attr("y2", plot.bottom)
    .attr("stroke", "#000").attr("stroke-width", 1.5);
svg.append("line")
    .attr("x1", x(yearToDate(precipRecord[1]))).attr("x2", plot.right)
    .attr("y1", plot.bottom).attr("y2", plot.bottom)
    .attr("stroke", "#000").attr("stroke-width", 1.5);

var fmt = d3.format(",");
leftTicks.forEach(function(v) {
    svg.append("line")
        .attr("x1", plot.left - 8).attr("x2", plot.left)
        .attr("y1", yL(v)).attr("y2", yL(v))
        .attr("stroke", "#777").attr("stroke-width", 1.5);
    svg.append("text")
        .attr("x", 192).attr("y", yL(v))
        .attr("dy", "0.36em")
        .attr("text-anchor", "end")
        .attr("font-size", 25)
        .text(fmt(v));
});
rightTicks.forEach(function(v) {
    svg.append("line")
        .attr("x1", plot.right - 8).attr("x2", plot.right + 8)
        .attr("y1", yR(v)).attr("y2", yR(v))
        .attr("stroke", "#666").attr("stroke-width", 1.5);
    svg.append("text")
        .attr("x", 1692).attr("y", yR(v))
        .attr("dy", "0.36em")
        .attr("font-size", 25)
        .text(v);
});
var xfmt = d3.timeFormat("%b-%y");
monthTicks.forEach(function(t) {
    svg.append("line")
        .attr("x1", x(t)).attr("x2", x(t))
        .attr("y1", plot.bottom).attr("y2", plot.bottom + 7)
        .attr("stroke", "#555").attr("stroke-width", 1.5);
    svg.append("text")
        .attr("transform", "translate(" + (x(t) + 6) + ",880) rotate(-45)")
        .attr("text-anchor", "end")
        .attr("font-size", 24)
        .text(xfmt(t));
});

// axis titles
svg.append("text")
    .attr("x", 912).attr("y", 1012)
    .attr("text-anchor", "middle")
    .attr("font-size", 31).attr("font-weight", "bold")
    .text("Date");
svg.append("text")
    .attr("transform", "translate(40,487) rotate(-90)")
    .attr("text-anchor", "middle")
    .attr("font-size", 30).attr("font-weight", "bold")
    .text("Matric Potential (-cm)");
svg.append("text")
    .attr("transform", "translate(1780,405) rotate(-90)")
    .attr("text-anchor", "middle")
    .attr("font-size", 30).attr("font-weight", "bold")
    .text("Daily Precipitation (cm)");

// legend
svg.append("rect")
    .attr("x", 17).attr("y", 1043).attr("width", 1786).attr("height", 70)
    .attr("fill", "#ffffff").attr("stroke", "#a0a0a0").attr("stroke-width", 2);
var legX = [205, 476, 749, 1021, 1473];
var lg = svg.append("g");
legendLabels.forEach(function(lab, i) {
    var cx = legX[i], cy = 1068;
    if (i === 0) lg.append("path").attr("d", squarePath(8)).attr("transform", "translate(" + cx + "," + cy + ")").attr("fill", "#000080");
    if (i === 1) lg.append("path").attr("d", diamondPath(8, 10)).attr("transform", "translate(" + cx + "," + cy + ")").attr("fill", "#FF00FF");
    if (i === 2) lg.append("path").attr("d", trianglePath(9, 9)).attr("transform", "translate(" + cx + "," + cy + ")").attr("fill", "#00FF00");
    if (i === 3) lg.append("circle").attr("cx", cx).attr("cy", cy).attr("r", 4.5).attr("fill", "#FFCC00");
    if (i === 4) lg.append("path").attr("d", starPath(3.3)).attr("transform", "translate(" + cx + "," + cy + ")")
        .attr("fill", "none").attr("stroke", "#0B3A66").attr("stroke-width", 2.2);
    lg.append("text")
        .attr("x", cx + 13).attr("y", 1077)
        .attr("font-size", 25)
        .text(lab);
});
</script>
</body>
</html>
